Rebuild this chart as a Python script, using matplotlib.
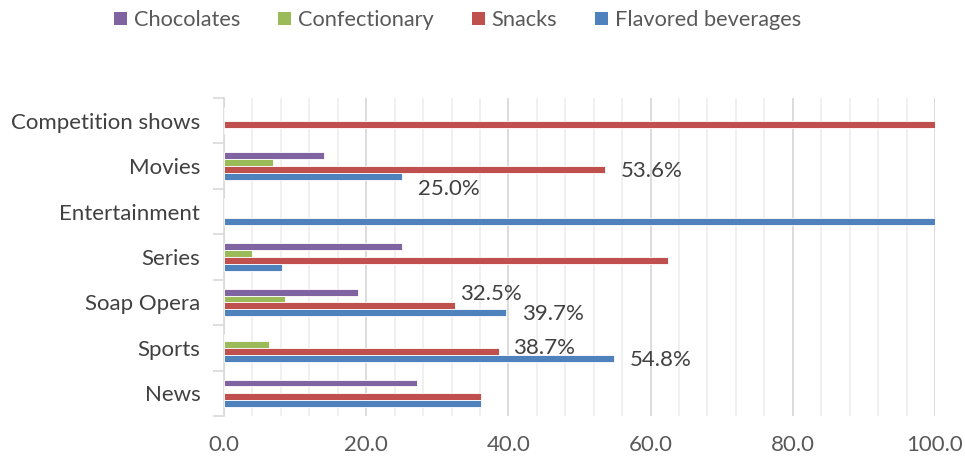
import matplotlib.pyplot as plt
import numpy as np
from matplotlib.patches import Patch
from matplotlib.ticker import MultipleLocator

plt.rcParams['font.family'] = ['Lato', 'DejaVu Sans']

# categories listed bottom to top
categories = ['News', 'Sports', 'Soap Opera', 'Series', 'Entertainment',
              'Movies', 'Competition shows']
series_names = ['Chocolates', 'Confectionary', 'Snacks', 'Flavored beverages']
chocolates = [27.1, 0.0, 18.9, 25.0, 0.0, 14.1, 0.0]
confectionary = [0.0, 6.3, 8.6, 4.0, 0.0, 6.9, 0.0]
snacks = [36.2, 38.7, 32.5, 62.4, 0.0, 53.6, 100.0]
beverages = [36.2, 54.8, 39.7, 8.1, 100.0, 25.0, 0.0]
colors = ['#8064A2', '#9BBB59', '#C0504D', '#4F81BD']

# (category, series, x offset pt, y offset pt) for the value labels
labelled = [
    ('Movies', 2, 11.5, -0.7),
    ('Movies', 3, 11.5, -8.9),
    ('Soap Opera', 2, 3.6, 8.4),
    ('Soap Opera', 3, 11.5, -1.0),
    ('Sports', 2, 10.0, 2.2),
    ('Sports', 3, 11.5, -1.4),
]

fig = plt.figure(figsize=(9.65, 4.59), dpi=100)
ax = fig.add_axes([0.2321, 0.0937, 0.7368, 0.6928])

values = [chocolates, confectionary, snacks, beverages]
y = np.arange(len(categories))
h = 0.151
offsets = [1.5 * h, 0.5 * h, -0.5 * h, -1.5 * h]
for vals, off, col in zip(values, offsets, colors):
    ax.barh(y + off, vals, height=h, color=col, edgecolor='white',
            linewidth=0.6, zorder=3)

for cat, s, dx, dy in labelled:
    i = categories.index(cat)
    v = values[s][i]
    ax.annotate(f'{v:.1f}%', xy=(v, y[i] + offsets[s]), xytext=(dx, dy),
                textcoords='offset points', ha='left', va='center',
                fontsize=16, color='#404040', zorder=4)

ax.set_xlim(0, 100)
ax.set_ylim(-0.5, len(categories) - 0.5)
ax.xaxis.set_major_locator(MultipleLocator(20))
ax.xaxis.set_minor_locator(MultipleLocator(4))
ax.grid(axis='x', which='major', color='#D9D9D9', linewidth=1.3, zorder=0)
ax.grid(axis='x', which='minor', color='#EFEFEF', linewidth=1.3, zorder=0)
ax.tick_params(axis='x', which='both', length=0, pad=14, labelsize=16,
               labelcolor='#595959')
ax.xaxis.set_major_formatter(lambda v, p: f'{v:.1f}')

ax.set_yticks(y)
ax.set_yticklabels(categories)
ax.set_yticks(np.arange(-0.5, len(categories)), minor=True)
ax.tick_params(axis='y', which='major', length=0, pad=17, labelsize=16,
               labelcolor='#404040')
ax.tick_params(axis='y', which='minor', length=8, width=1.2, color='#D9D9D9')

for side in ['top', 'right', 'bottom']:
    ax.spines[side].set_visible(False)
ax.spines['left'].set_color('#D9D9D9')
ax.spines['left'].set_linewidth(1.2)

handles = [Patch(facecolor=c, label=n) for c, n in zip(colors, series_names)]
fig.legend(handles=handles, loc='center', bbox_to_anchor=(0.474, 0.956),
           ncol=4, frameon=False, fontsize=15.7, handlelength=0.6,
           handleheight=0.6, handletextpad=0.3, columnspacing=1.75,
           labelcolor='#595959')

fig.savefig('out.png', dpi=100)
